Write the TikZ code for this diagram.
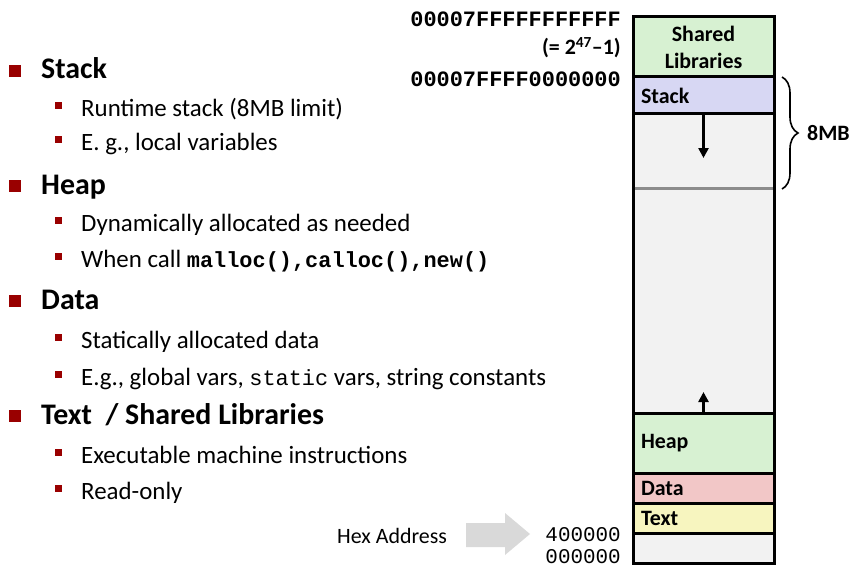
\documentclass[tikz,border=0pt]{standalone}
\usepackage{fontspec}
\setmainfont{Carlito}
\setmonofont{Liberation Mono}
\usetikzlibrary{arrows.meta,decorations.pathreplacing,positioning}
\definecolor{bulletred}{HTML}{990000}
\definecolor{libgreen}{HTML}{D7F1D2}
\definecolor{stackblue}{HTML}{D7D7F3}
\definecolor{gapgrey}{HTML}{F2F2F2}
\definecolor{datapink}{HTML}{F2C7C7}
\definecolor{textyellow}{HTML}{F7F5BF}
\definecolor{hexgrey}{HTML}{D9D9D9}
\definecolor{limitgrey}{HTML}{8C8C8C}
\tikzset{
  head/.style={anchor=base west, inner sep=0, font=\fontsize{30}{34}\selectfont\bfseries},
  sub/.style={anchor=base west, inner sep=0, font=\fontsize{25}{29}\selectfont},
  bigsq/.style={fill=bulletred, minimum size=12bp, inner sep=0},
  smallsq/.style={fill=bulletred, minimum size=7bp, inner sep=0},
  seg/.style={draw, line width=3bp, anchor=north west, outer sep=0,
    minimum width=141bp, text width=125bp, inner xsep=8bp, inner ysep=0,
    align=left, font=\fontsize{22}{27}\selectfont\bfseries},
  addr/.style={anchor=base east, inner sep=0, font=\fontsize{22}{24}\selectfont\ttfamily\bfseries},
  growarrow/.style={line width=2.6bp, -{Triangle[width=10bp,length=10bp]}},
}
\begin{document}
\begin{tikzpicture}[x=1bp,y=-1bp]
  \useasboundingbox (0,0) rectangle (859,571);

  \node[bigsq] (b1) at (15,71) {};
  \node[head] (stackhd) at (41,79) {Stack};
  \node[smallsq] (b11) at (58,106) {};
  \node[sub] (stack1) at (81,117) {Runtime stack (8MB limit)};
  \node[smallsq] (b12) at (58,140) {};
  \node[sub] (stack2) at (81,151) {E. g., local variables};

  \node[bigsq] (b2) at (15,186) {};
  \node[head] (heaphd) at (41,195) {Heap};
  \node[smallsq] (b21) at (58,221) {};
  \node[sub] (heap1) at (81,232) {Dynamically allocated as needed};
  \node[smallsq] (b22) at (58,256) {};
  \node[sub] (heap2) at (81,267) {When call {\fontsize{22}{24}\selectfont\ttfamily\bfseries malloc(),calloc(),new()}};

  \node[bigsq] (b3) at (15,301) {};
  \node[head] (datahd) at (41,309) {Data};
  \node[smallsq] (b31) at (58,337) {};
  \node[sub] (data1) at (81,348) {Statically allocated data};
  \node[smallsq] (b32) at (58,374) {};
  \node[sub] (data2) at (81,385) {E.g., global vars, {\fontsize{22}{24}\selectfont\ttfamily static} vars, string constants};

  \node[bigsq] (b4) at (15,416) {};
  \node[head] (texthd) at (41,424) {Text~~/ Shared Libraries};
  \node[smallsq] (b41) at (58,452) {};
  \node[sub] (text1) at (81,463) {Executable machine instructions};
  \node[smallsq] (b42) at (58,488) {};
  \node[sub] (text2) at (81,499) {Read-only};

  \node[seg, fill=libgreen, minimum height=60bp, align=center] (shlib) at (633,17) {Shared\\Libraries};
  \node[seg, fill=stackblue, minimum height=37bp, below=0pt of shlib] (stack) {Stack};
  \node[seg, fill=gapgrey, minimum height=299bp, below=0pt of stack] (gap) {};
  \node[seg, fill=libgreen, minimum height=60bp, below=0pt of gap] (heap) {Heap};
  \node[seg, fill=datapink, minimum height=30bp, below=0pt of heap] (data) {Data};
  \node[seg, fill=textyellow, minimum height=30bp, below=0pt of data] (text) {Text};
  \node[seg, fill=gapgrey, minimum height=30bp, below=0pt of text] (low) {};

  \coordinate (limitL) at (634.5,189);
  \coordinate (limitR) at (772.5,189);
  \draw[limitgrey, line width=3bp] (limitL) -- (limitR);

  \coordinate[below=44bp of stack.south] (stackend);
  \draw[growarrow] (stack.south) -- (stackend);
  \coordinate[above=21bp of heap.north] (heapend);
  \draw[growarrow] (heap.north) -- (heapend);

  \coordinate (braceT) at (782,77);
  \coordinate (braceB) at (782,189);
  \draw[decorate, decoration={brace, amplitude=16bp}, line width=1.6bp] (braceT) -- (braceB);
  \node[anchor=west, inner sep=0, font=\fontsize{22}{24}\selectfont\bfseries] (eightmb) at (807,133) {8MB};

  \node[addr] (topaddr) at (621,27) {00007FFFFFFFFFFF};
  \node[anchor=base east, inner sep=0, font=\fontsize{22}{24}\selectfont\bfseries] (pow) at (621,55) {(= 2\textsuperscript{47}–1)};
  \node[addr] (stackaddr) at (621,87) {00007FFFF0000000};
  \node[addr, font=\fontsize{21}{24}\selectfont\ttfamily] (textaddr) at (621,541) {400000};
  \node[addr, font=\fontsize{21}{24}\selectfont\ttfamily] (zeroaddr) at (621,563) {000000};

  \node[anchor=base west, inner sep=0, font=\fontsize{22}{24}\selectfont] (hexlbl) at (337,543) {Hex Address};
  \fill[hexgrey] (466,523) -- (505,523) -- (505,513) -- (530,534) -- (505,555) -- (505,547) -- (466,547) -- cycle;
\end{tikzpicture}
\end{document}
